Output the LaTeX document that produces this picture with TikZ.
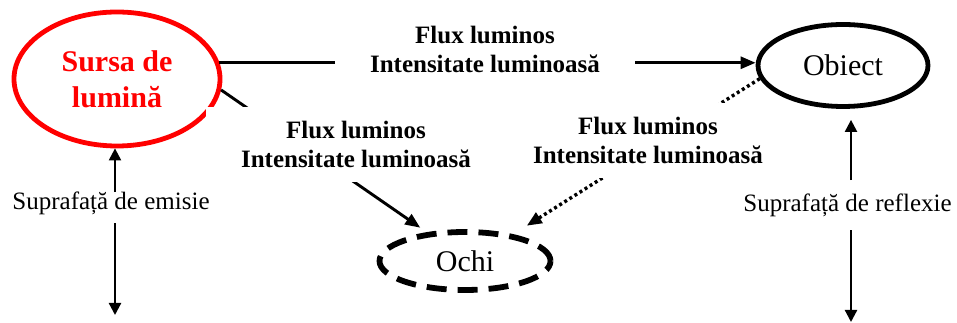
\documentclass[tikz,border=0pt]{standalone}
\usepackage{fontspec}
\setmainfont{Liberation Serif}
\usetikzlibrary{arrows.meta,shapes.geometric}

\tikzset{
  x=1pt, y=1pt,
  oval/.style={ellipse, inner sep=0pt, line width=4.8pt, draw=black},
  txt/.style={font=\fontsize{25}{29}\selectfont, inner sep=0pt},
  big/.style={font=\fontsize{30}{36}\selectfont},
  lbl/.style={font=\bfseries\fontsize{25}{29}\selectfont, align=center,
              fill=white, inner xsep=35pt, inner ysep=14pt},
  arr/.style={line width=2.9pt, -{Triangle[length=15pt,width=12pt]}},
  varr/.style={line width=2.2pt, -{Triangle[length=12pt,width=12pt]}},
  dots/.style={line width=3.4pt, dash pattern=on 3pt off 3pt}
}

\begin{document}
\begin{tikzpicture}
\useasboundingbox (0,0) rectangle (957,323);

% main elements
\node[oval, draw=red, text=red, font=\bfseries\fontsize{30}{36}\selectfont,
      align=center, minimum width=206, minimum height=134] (sursa) at (117,244)
      {Sursa de\\lumină};
\node[oval, big, minimum width=170, minimum height=82] (obiect) at (843,257.5) {Obiect};
\node[oval, big, line width=5.8pt, dash pattern=on 20pt off 11pt,
      minimum width=171, minimum height=58] (ochi) at (465,62) {Ochi};

% surfaces
\node[txt, anchor=base] (emisie) at (111,113) {Suprafață de emisie};
\node[txt, anchor=base] (reflexie) at (847.5,111) {Suprafață de reflexie};
\coordinate (emisieEnd) at (115,8);
\coordinate (reflexieEnd) at (851,1);

\draw[varr] (emisieEnd |- emisie.north) -- (emisieEnd |- sursa.south);
\draw[varr, shorten <=7.5pt] (emisieEnd |- emisie.south) -- (emisieEnd);
\draw[varr, shorten <=14pt, shorten >=11pt] (reflexieEnd |- reflexie.north) -- (reflexieEnd |- obiect.south);
\draw[varr, shorten <=12.5pt] (reflexieEnd |- reflexie.south) -- (reflexieEnd);

% light paths
\draw[arr] (sursa.9) -- (sursa.9 -| obiect.west);
\draw[arr, shorten >=8pt] (sursa.-6) -- (ochi.143);
\draw[arr, dots, shorten >=16pt] (obiect.189) -- (ochi.29);

% quantities on the paths
\node[lbl] (l1) at (485,273.5) {Flux luminos\\Intensitate luminoasă};
\node[lbl] (l2) at (356,178.5) {Flux luminos\\Intensitate luminoasă};
\node[lbl] (l3) at (648,182.5) {Flux luminos\\Intensitate luminoasă};
\end{tikzpicture}
\end{document}
